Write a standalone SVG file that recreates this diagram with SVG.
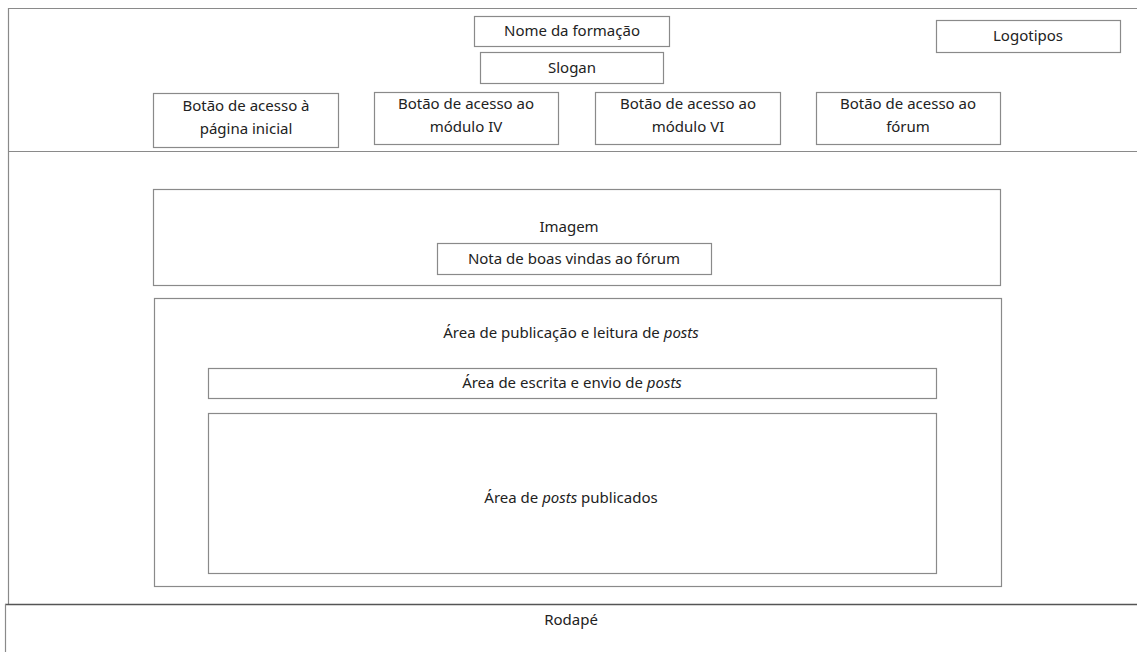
<svg xmlns="http://www.w3.org/2000/svg" width="1137" height="652" viewBox="0 0 1137 652">
<style>
.b{fill:#fff;stroke:#8a8a8a;stroke-width:1.2}
.l{fill:none;stroke:#8a8a8a;stroke-width:1.2}
.t{font-family:"Noto Sans","Open Sans",sans-serif;font-size:15px;fill:#222;text-anchor:middle}
.i{font-style:italic}
</style>
<rect width="1137" height="652" fill="#fff"/>
<g id="frame">
<path class="l" d="M1137,8.5 H8.5 V604"/>
<line class="l" x1="8" y1="151.5" x2="1137" y2="151.5"/>
<line x1="5" y1="604.5" x2="1137" y2="604.5" stroke="#555" stroke-width="1.6"/>
<line class="l" x1="5.5" y1="604" x2="5.5" y2="652"/>
</g>
<g id="nome"><rect class="b" x="474.5" y="16.5" width="195" height="30"/><text class="t" x="572" y="36">Nome da formação</text></g>
<g id="slogan"><rect class="b" x="480.5" y="52.5" width="183" height="31"/><text class="t" x="572" y="73">Slogan</text></g>
<g id="logotipos"><rect class="b" x="936.5" y="20.5" width="184" height="32"/><text class="t" x="1028" y="41">Logotipos</text></g>
<g id="btn-inicial"><rect class="b" x="153.5" y="93.5" width="185" height="54"/><text class="t" x="246" y="111">Botão de acesso à</text><text class="t" x="246" y="134">página inicial</text></g>
<g id="btn-mod4"><rect class="b" x="374.5" y="92.5" width="184" height="52"/><text class="t" x="466" y="109">Botão de acesso ao</text><text class="t" x="466" y="132">módulo IV</text></g>
<g id="btn-mod6"><rect class="b" x="595.5" y="92.5" width="185" height="52"/><text class="t" x="688" y="109">Botão de acesso ao</text><text class="t" x="688" y="132">módulo VI</text></g>
<g id="btn-forum"><rect class="b" x="816.5" y="92.5" width="184" height="52"/><text class="t" x="908" y="109">Botão de acesso ao</text><text class="t" x="908" y="132">fórum</text></g>
<g id="imagem"><rect class="b" x="153.5" y="189.5" width="847" height="96"/><text class="t" x="569" y="232">Imagem</text></g>
<g id="nota"><rect class="b" x="437.5" y="243.5" width="274" height="31"/><text class="t" x="574" y="264">Nota de boas vindas ao fórum</text></g>
<g id="publicacao"><rect class="b" x="154.5" y="298.5" width="847" height="288"/><text class="t" x="571" y="338">Área de publicação e leitura de <tspan class="i">posts</tspan></text></g>
<g id="escrita"><rect class="b" x="208.5" y="368.5" width="728" height="30"/><text class="t" x="572" y="388">Área de escrita e envio de <tspan class="i">posts</tspan></text></g>
<g id="publicados"><rect class="b" x="208.5" y="413.5" width="728" height="160"/><text class="t" x="571" y="503">Área de <tspan class="i">posts</tspan> publicados</text></g>
<g id="rodape"><text class="t" x="571" y="625">Rodapé</text></g>
</svg>
